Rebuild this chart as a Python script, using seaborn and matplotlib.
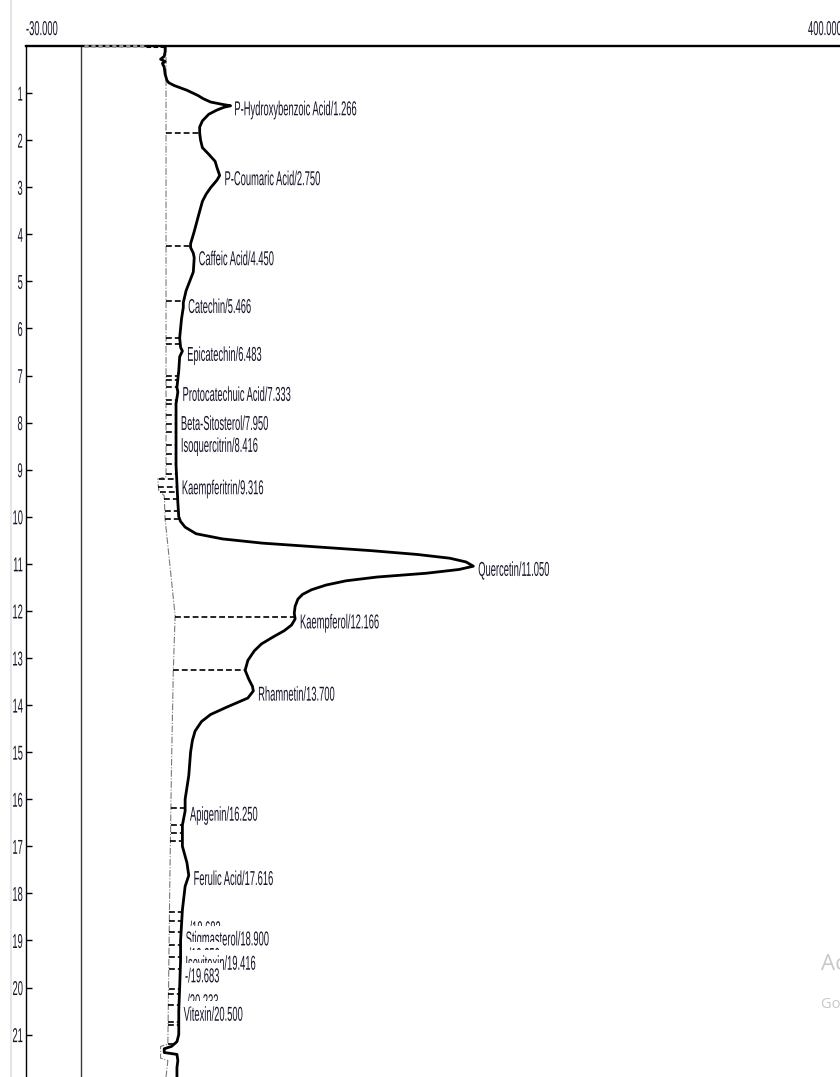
import numpy as np
import pandas as pd
import seaborn as sns
import matplotlib
matplotlib.use("Agg")
import matplotlib.pyplot as plt
from matplotlib.patheffects import AbstractPathEffect
from matplotlib.transforms import Affine2D
from matplotlib.lines import Line2D
from matplotlib.path import Path

# ---------------------------------------------------------------------------
# Chromatogram trace: retention time (min) and detector signal (mV)
# ---------------------------------------------------------------------------
trace_time = [0.02, 0.12, 0.22, 0.28, 0.33, 0.37, 0.45, 0.60, 0.73, 0.78,
              0.84, 0.94, 1.05, 1.12, 1.19, 1.24, 1.27, 1.30, 1.36, 1.45,
              1.59, 1.72, 1.85, 2.00, 2.16, 2.30, 2.45, 2.58, 2.75, 2.85,
              3.01, 3.15, 3.30, 3.58, 3.94, 4.20, 4.28, 4.40, 4.50, 4.80,
              5.00, 5.20, 5.45, 5.55, 5.80, 6.00, 6.20, 6.40, 6.48, 6.60,
              6.90, 7.25, 7.35, 7.60, 7.95, 8.40, 8.90, 9.30, 9.70, 10.00,
              10.10, 10.22, 10.36, 10.47, 10.56, 10.64, 10.72, 10.80, 10.88, 10.96,
              11.05, 11.12, 11.20, 11.28, 11.36, 11.45, 11.55, 11.65, 11.75, 11.90,
              12.05, 12.17, 12.30, 12.42, 12.55, 12.70, 12.85, 13.05, 13.26, 13.45,
              13.60, 13.70, 13.85, 13.95, 14.05, 14.20, 14.35, 14.55, 14.75, 15.00,
              15.50, 16.00, 16.25, 16.55, 17.00, 17.35, 17.62, 17.85, 18.35, 19.00,
              19.42, 20.00, 20.50, 21.00, 21.15, 21.25, 21.30, 21.38, 21.42, 21.55,
              21.70, 21.90]
trace_signal = [46.5, 46.5, 46.0, 44.0, 46.5, 45.0, 46.0, 46.5, 47.5, 48.5,
                51.5, 58.5, 64.5, 67.5, 71.5, 78.0, 82.5, 79.0, 75.0, 70.5,
                67.0, 65.5, 65.5, 66.0, 67.0, 70.5, 74.0, 75.0, 76.5, 75.0,
                71.5, 69.0, 67.0, 65.0, 62.5, 60.5, 60.5, 62.0, 62.5, 62.0,
                60.0, 58.0, 56.5, 56.5, 55.5, 55.0, 54.5, 55.0, 56.0, 54.5,
                54.0, 53.0, 53.5, 52.5, 52.5, 52.5, 52.5, 53.0, 53.5, 54.0,
                55.0, 57.5, 63.5, 78.0, 100.0, 130.0, 160.0, 185.0, 203.0, 212.0,
                216.0, 208.0, 190.0, 163.0, 146.0, 135.0, 127.0, 122.0, 119.5, 118.0,
                117.5, 118.0, 116.0, 112.0, 106.0, 99.5, 95.5, 92.0, 90.5, 92.5,
                94.5, 95.0, 92.0, 86.0, 80.0, 71.5, 66.5, 63.0, 61.5, 60.5,
                59.5, 57.5, 57.5, 56.0, 56.0, 58.5, 59.5, 57.5, 56.0, 55.0,
                55.0, 54.5, 54.0, 54.0, 53.0, 50.0, 46.0, 46.0, 53.0, 53.5,
                53.0, 53.0]

# Injection artefact along the start of the run
inject_time = [0.01, 0.01]
inject_signal = [2.0, 36.0]
inject_tail_signal = [36.0, 46.0]

# Integration baseline
base_time = [0.0, 9.15, 9.20, 9.45, 9.55, 10.05, 12.10, 13.26, 15.30,
             18.00, 21.20, 21.25, 21.50, 21.55, 21.90]
base_signal = [47.0, 47.0, 42.5, 43.0, 46.0, 46.5, 52.0, 51.0, 50.0,
               49.0, 48.0, 44.0, 44.0, 48.0, 47.0]

# Peak boundaries (drop lines from baseline to trace)
drop_times = [1.85, 4.24, 5.42, 6.21, 6.32, 7.00, 7.10, 7.24, 7.52, 7.60,
              7.84, 8.02, 8.20, 8.48, 8.66, 8.87, 9.09, 9.19, 9.37, 9.47,
              9.62, 9.87, 10.04, 12.12, 13.26, 16.18, 16.54, 16.71, 16.89,
              18.40, 18.59, 18.82, 19.10, 19.35, 19.60, 20.03, 20.13, 20.38,
              20.74, 20.80, 21.20]

# Peak identification labels
peak_names = ["P-Hydroxybenzoic Acid", "P-Coumaric Acid", "Caffeic Acid",
              "Catechin", "Epicatechin", "Protocatechuic Acid", "Beta-Sitosterol",
              "Isoquercitrin", "Kaempferitrin", "Quercetin", "Kaempferol",
              "Rhamnetin", "Apigenin", "Ferulic Acid", "-", "Stigmasterol", "-",
              "Isovitexin", "-", "-", "Vitexin"]
peak_times = [1.266, 2.750, 4.450, 5.466, 6.483, 7.333, 7.950, 8.416, 9.316,
              11.050, 12.166, 13.700, 16.250, 17.616, 18.683, 18.900, 19.250,
              19.416, 19.683, 20.233, 20.500]

y_ticks = list(range(1, 22))
x_tick_values = [-30, 400]
x_tick_labels = ["-30.000", "400.000"]

TEXT_COLOR = "#15152b"
FONT_SIZE = 14.5
SQUEEZE = 0.465


class Squeeze(AbstractPathEffect):
    """Draw text paths horizontally condensed around an anchor edge."""

    def __init__(self, sx=0.5, anchor="left"):
        super().__init__()
        self.sx = sx
        self.anchor = anchor

    def draw_path(self, renderer, gc, tpath, affine, rgbFace=None):
        ext = tpath.get_extents()
        x0 = {"left": 0.0, "right": ext.x1,
              "center": 0.5 * (ext.x0 + ext.x1)}[self.anchor]
        squeeze = Affine2D().translate(-x0, 0).scale(self.sx, 1.0).translate(x0, 0)
        renderer.draw_path(gc, tpath, squeeze + affine, rgbFace)


def label_cell(x0, y0, width, height, mutation_size):
    """Background cell of a peak label: leading above the text, trimmed below."""
    left = x0 - 0.02 * mutation_size
    right = x0 + width * SQUEEZE + 0.1 * mutation_size
    bottom = y0 + 0.18 * mutation_size
    top = y0 + height + 0.22 * mutation_size
    return Path([(left, bottom), (right, bottom), (right, top), (left, top),
                 (left, bottom)], closed=True)


sns.set_theme(style="white")
plt.rcParams["font.family"] = ["Liberation Sans", "DejaVu Sans"]

W, H = 840, 1077
fig = plt.figure(figsize=(W / 100, H / 100), dpi=100)
fig.patch.set_facecolor("white")

# axes: -30 at x=26px, 400 at x=808px, 0 min at y=46px, 21.9 min at bottom
px_per_unit = (808 - 26) / 430.0
x_right = -30 + (W - 26) / px_per_unit
ax = fig.add_axes([26 / W, 0.0, 1 - 26 / W, 1 - 46 / H])
ax.set_xlim(-30, x_right)
ax.set_ylim(21.9, 0)
ax.set_facecolor("white")

# zero-signal line
ax.axvline(0, color="#3a3a3a", lw=1.0, zorder=1)

# baseline
sns.lineplot(x=base_signal, y=base_time, sort=False, estimator=None, ax=ax,
             color="#7a7a7a", lw=0.8, linestyle=(0, (6, 1.5, 1, 1.5)), zorder=2)

# drop lines
tr_t = np.array(trace_time)
tr_s = np.array(trace_signal)
b_t = np.array(base_time)
b_s = np.array(base_signal)
d_t = np.array(drop_times)
ax.hlines(d_t, np.interp(d_t, b_t, b_s), np.interp(d_t, tr_t, tr_s),
          colors="black", lw=1.2, linestyles=(0, (3.5, 1.8)), zorder=3)

# injection artefact
ax.plot(inject_signal, inject_time, color="#9a9a9a", lw=2.0,
        linestyle=(0, (1.5, 1)), zorder=3, clip_on=False)
ax.plot(inject_tail_signal, inject_time, color="black", lw=2.2,
        linestyle=(0, (1.5, 0.8)), zorder=3, clip_on=False)

# chromatogram trace (kept above the label cells)
sns.lineplot(x=trace_signal, y=trace_time, sort=False, estimator=None, ax=ax,
             color="black", lw=2.0, zorder=60)

# peak labels, each later one drawn over the earlier ones
for i, (name, t) in enumerate(zip(peak_names, peak_times)):
    s = float(np.interp(t, tr_t, tr_s))
    ax.annotate(f"{name}/{t:.3f}", xy=(s, t), xytext=(3.5, -3),
                textcoords="offset points", ha="left", va="center",
                fontsize=FONT_SIZE, color=TEXT_COLOR, zorder=10 + i,
                bbox=dict(boxstyle=label_cell, fc="white", ec="none"),
                path_effects=[Squeeze(SQUEEZE, "left")], annotation_clip=False)

# spines and ticks
for side in ("right", "bottom"):
    ax.spines[side].set_visible(False)
ax.spines["top"].set_linewidth(1.7)
ax.spines["top"].set_color("black")
ax.spines["left"].set_linewidth(1.0)
ax.spines["left"].set_color("black")

ax.set_yticks(y_ticks)
ax.set_yticklabels([str(v) for v in y_ticks])
ax.tick_params(axis="y", direction="in", length=4, width=1.0, pad=2,
               labelsize=FONT_SIZE, colors="black", labelcolor=TEXT_COLOR, left=True)
for lab in ax.get_yticklabels():
    lab.set_path_effects([Squeeze(SQUEEZE, "right")])

ax.xaxis.tick_top()
ax.set_xticks(x_tick_values)
ax.set_xticklabels(x_tick_labels)
ax.tick_params(axis="x", length=0, pad=5, labelsize=FONT_SIZE, labelcolor=TEXT_COLOR)
for lab in ax.get_xticklabels():
    lab.set_horizontalalignment("left")
    lab.set_path_effects([Squeeze(SQUEEZE, "left")])

ax.set_xlabel("")
ax.set_ylabel("")
ax.grid(False)
if ax.get_legend() is not None:
    ax.get_legend().remove()

# window frame edge on the left
fig.add_artist(Line2D([11 / W, 11 / W], [0, 1], color="#e6e6e6", lw=1.5))

# desktop overlay text at the right edge
fig.text(821 / W, 1 - 965 / H, "Activate Windows", color="#c8c8c8",
         fontsize=16, va="center", ha="left", family=["Open Sans", "DejaVu Sans"])
fig.text(821 / W, 1 - 1004 / H, "Go to Settings to activate Windows.",
         color="#c8c8c8", fontsize=10.5, va="center", ha="left",
         family=["Open Sans", "DejaVu Sans"])

fig.savefig("out.png", dpi=100, facecolor="white")
